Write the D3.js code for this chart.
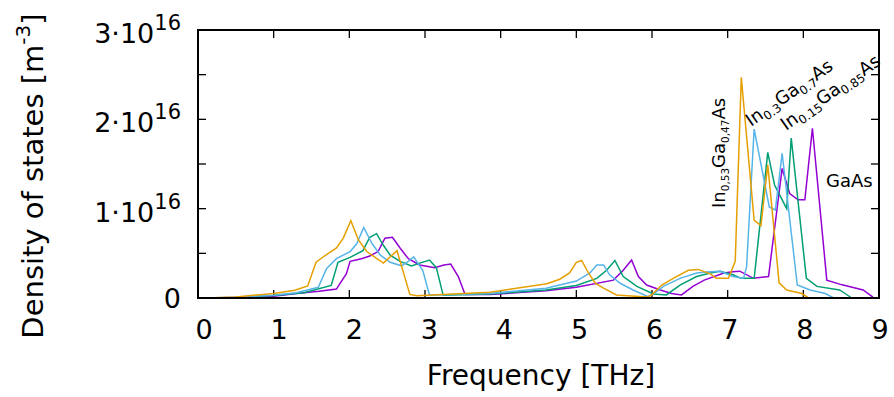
<!DOCTYPE html>
<html><head><meta charset="utf-8">
<script src="https://cdn.jsdelivr.net/npm/d3@7"></script>
<style>body{margin:0;background:#fff}svg{display:block}text{font-family:"DejaVu Sans",sans-serif}</style>
</head><body><svg id="c" width="894" height="397"></svg>
<script>
// Density of states in units of 1e16 m^-3, frequency in THz
const seriesNames = ["GaAs","In0.15Ga0.85As","In0.3Ga0.7As","In0.53Ga0.47As"];
const colors = ["#9400D3","#009E73","#56B4E9","#E69F00"];

const fGaAs = [0.1,0.5,1.0,1.3,1.6,1.83,1.89,1.96,2.01,2.16,2.27,2.38,2.47,2.57,2.67,2.78,2.93,3.13,3.25,3.34,3.44,3.53,3.86,4.6,5.0,5.49,5.62,5.73,5.82,5.93,6.11,6.26,6.39,6.54,6.69,6.95,7.07,7.16,7.34,7.54,7.72,7.82,7.93,8.02,8.12,8.31,8.5,8.79,8.92];
const dGaAs = [0,0.005,0.02,0.05,0.075,0.10,0.18,0.27,0.41,0.44,0.47,0.52,0.67,0.68,0.56,0.44,0.37,0.34,0.37,0.38,0.24,0.04,0.04,0.08,0.12,0.20,0.31,0.425,0.24,0.145,0.09,0.05,0.034,0.13,0.20,0.28,0.295,0.30,0.22,0.24,1.45,1.17,1.10,1.10,1.90,0.20,0.15,0.09,0.01];

const fIn15 = [0.1,0.5,1.0,1.4,1.76,1.85,2.01,2.18,2.27,2.36,2.45,2.54,2.67,2.82,2.93,3.06,3.15,3.24,3.86,4.6,5.0,5.27,5.40,5.51,5.62,5.80,6.02,6.19,6.37,6.59,6.77,6.90,7.07,7.18,7.35,7.53,7.62,7.78,7.84,8.04,8.18,8.48,8.64];
const dIn15 = [0,0.006,0.028,0.06,0.14,0.40,0.455,0.53,0.68,0.72,0.59,0.48,0.41,0.36,0.39,0.425,0.34,0.03,0.045,0.09,0.14,0.22,0.31,0.42,0.24,0.13,0.045,0.034,0.145,0.24,0.28,0.30,0.26,0.22,0.22,1.63,1.265,1.0,1.79,0.22,0.13,0.09,0];

const fIn30 = [0.1,0.5,1.0,1.3,1.59,1.70,1.83,2.01,2.10,2.19,2.30,2.41,2.54,2.69,2.78,2.85,2.97,3.06,3.86,4.6,5.00,5.18,5.27,5.36,5.44,5.58,5.75,5.95,6.02,6.15,6.37,6.59,6.72,6.90,7.07,7.21,7.25,7.35,7.55,7.63,7.72,7.92,8.09,8.29,8.40,8.92];
const dIn30 = [0,0.008,0.03,0.06,0.12,0.33,0.44,0.52,0.61,0.79,0.61,0.48,0.40,0.36,0.41,0.46,0.31,0.03,0.05,0.11,0.19,0.28,0.37,0.37,0.26,0.165,0.09,0.015,0.045,0.13,0.22,0.28,0.29,0.30,0.24,0.22,0.35,1.89,1.02,0.985,1.62,0.145,0.09,0.05,0,0];

const fIn53 = [0.1,0.5,1.0,1.28,1.45,1.56,1.67,1.83,1.92,2.02,2.12,2.23,2.45,2.63,2.80,2.89,3.86,4.61,4.78,4.91,5.00,5.07,5.16,5.25,5.36,5.53,5.93,5.99,6.13,6.28,6.48,6.61,6.77,6.85,7.01,7.10,7.18,7.35,7.44,7.53,7.68,7.78,7.98,8.07,8.65];
const dIn53 = [0,0.012,0.05,0.086,0.134,0.40,0.47,0.56,0.67,0.865,0.65,0.52,0.39,0.53,0.04,0.026,0.064,0.16,0.21,0.28,0.40,0.42,0.28,0.165,0.11,0.034,0.01,0.03,0.145,0.22,0.31,0.32,0.27,0.22,0.22,0.41,2.47,0.87,0.81,1.49,0.17,0.09,0.05,0,0];

const xTicks = [0,1,2,3,4,5,6,7,8,9];
const yTicks = [0,0.5,1,1.5,2,2.5,3];
const yTickLabels = [{v:0,m:"0",e:""},{v:1,m:"1·10",e:"16"},{v:2,m:"2·10",e:"16"},{v:3,m:"3·10",e:"16"}];

const svg = d3.select("#c");
const L=198,R=879,T=30,B=298;
const x = d3.scaleLinear().domain([0,9]).range([L,R]);
const xLab = d3.scaleLinear().domain([0,9]).range([204,880]);
const y = d3.scaleLinear().domain([0,3]).range([B,T]);

// ticks (inward, mirrored)
const tk = 8;
const g = svg.append("g").attr("stroke","#000").attr("stroke-width",1.3);
xTicks.forEach(v=>{
  g.append("line").attr("x1",x(v)).attr("x2",x(v)).attr("y1",B).attr("y2",B-tk);
  g.append("line").attr("x1",x(v)).attr("x2",x(v)).attr("y1",T).attr("y2",T+tk);
});
yTicks.forEach(v=>{
  g.append("line").attr("x1",L).attr("x2",L+tk).attr("y1",y(v)).attr("y2",y(v));
  g.append("line").attr("x1",R).attr("x2",R-tk).attr("y1",y(v)).attr("y2",y(v));
});

// data lines
const sets = [[fGaAs,dGaAs],[fIn15,dIn15],[fIn30,dIn30],[fIn53,dIn53]];
const line = d3.line().x(d=>x(d[0])).y(d=>y(d[1]));
sets.forEach((s,i)=>{
  const pts = s[0].map((f,j)=>[f,s[1][j]]);
  svg.append("path").datum(pts).attr("d",line).attr("fill","none")
    .attr("stroke",colors[i]).attr("stroke-width",1.5).attr("stroke-linejoin","miter");
});

// border
svg.append("rect").attr("x",L).attr("y",T).attr("width",R-L).attr("height",B-T)
  .attr("fill","none").attr("stroke","#000").attr("stroke-width",2);

// x tick labels
xTicks.forEach(v=>{
  svg.append("text").attr("x",xLab(v)).attr("y",339).attr("text-anchor","middle")
    .attr("font-size",27).text(v);
});
// y tick labels
yTickLabels.forEach(t=>{
  const tx = svg.append("text").attr("x",181).attr("y",y(t.v)+(t.e?13:10)).attr("text-anchor","end").attr("font-size",27);
  tx.append("tspan").text(t.m);
  if(t.e) tx.append("tspan").attr("font-size",21).attr("dy",-13).text(t.e);
});
// axis labels
svg.append("text").attr("x",541).attr("y",385).attr("text-anchor","middle").attr("font-size",28).text("Frequency [THz]");
const yl = svg.append("text").attr("transform","translate(43,176) rotate(-90)").attr("text-anchor","middle").attr("font-size",29);
yl.append("tspan").text("Density of states [m");
yl.append("tspan").attr("font-size",20).attr("dy",-13).text("-3");
yl.append("tspan").attr("dy",13).text("]");

// series labels with subscripts
function chem(parts, tr, subSize){
  const t = svg.append("text").attr("transform",tr).attr("font-size",18);
  let sub=false;
  parts.forEach(p=>{
    const isSub = p.startsWith("_");
    const s = t.append("tspan").text(isSub?p.slice(1):p);
    if(isSub){ s.attr("font-size",subSize).attr("dy",sub?0:4); sub=true; }
    else { if(sub) s.attr("dy",-4); sub=false; }
  });
}
chem(["In","_0,53","Ga","_0,47","As"],"translate(725,208) rotate(-90)",10.5);
chem(["In","_0.3","Ga","_0.7","As"],"translate(751,127) rotate(-35)",12);
chem(["In","_0.15","Ga","_0.85","As"],"translate(786,131) rotate(-35)",12);
svg.append("text").attr("x",826).attr("y",187).attr("font-size",18).text("GaAs");
</script></body></html>
